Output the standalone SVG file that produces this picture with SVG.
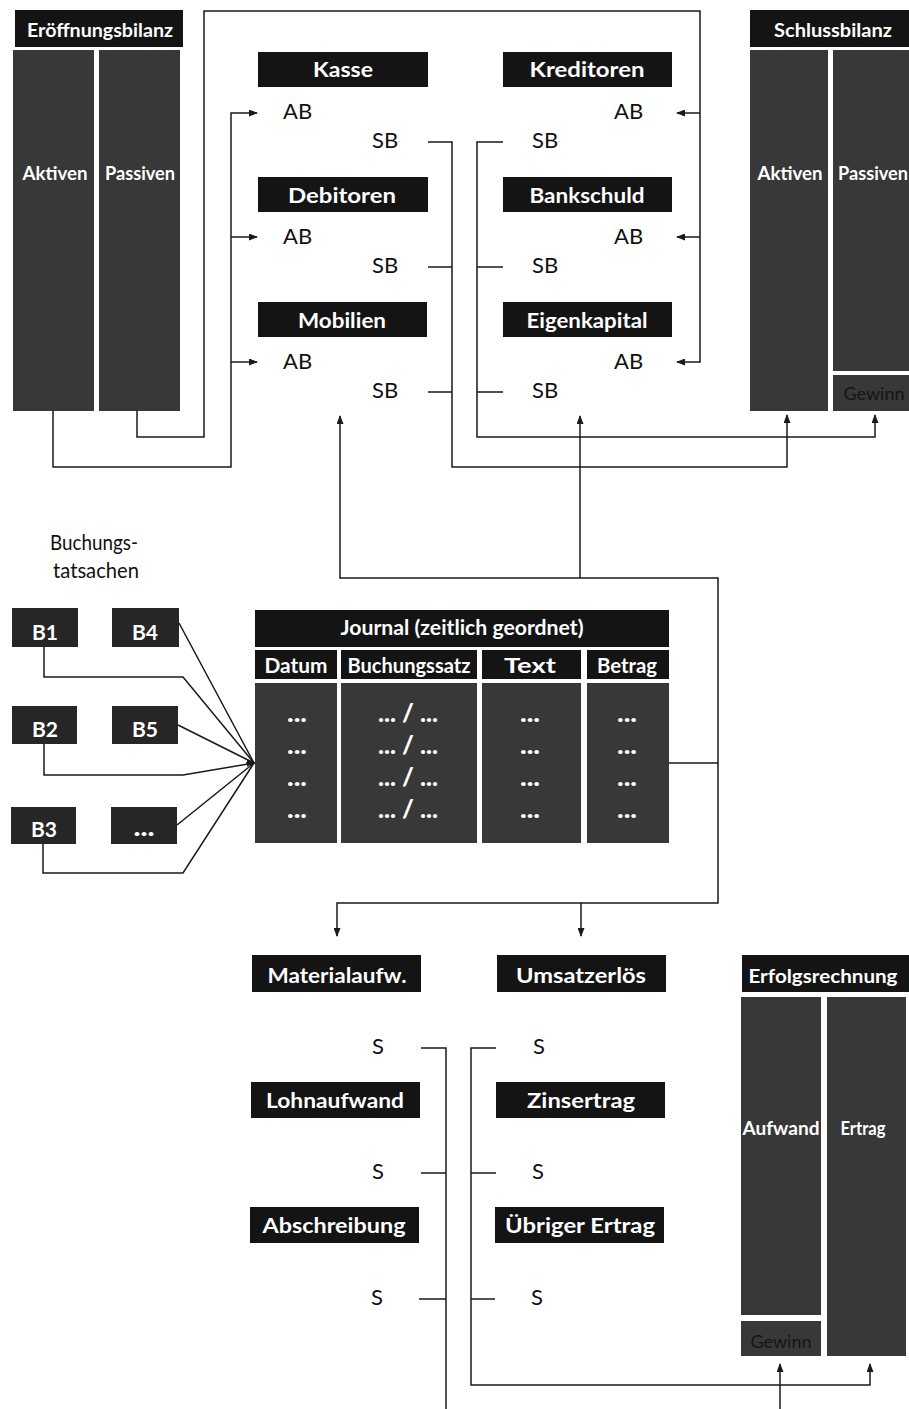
<svg xmlns="http://www.w3.org/2000/svg" width="909" height="1409" viewBox="0 0 909 1409">
<defs>
<style>
.hd{fill:#141414}
.col{fill:#383838}
.bx{fill:#262626}
.lt{font-family:Lato,"Open Sans","Liberation Sans",sans-serif;font-weight:700;fill:#fff;text-anchor:middle}
.dt{font-family:Lato,"Open Sans","Liberation Sans",sans-serif;font-weight:900;fill:#fff;text-anchor:middle;font-size:24px}
.rg{font-family:Lato,"Open Sans","Liberation Sans",sans-serif;font-weight:400;fill:#111;font-size:22px}
.gw{font-family:Lato,"Open Sans","Liberation Sans",sans-serif;font-weight:400;fill:#151515;font-size:18px;text-anchor:middle}
.ln{fill:none;stroke:#1a1a1a;stroke-width:1.5}
</style>
<marker id="ah" markerWidth="9" markerHeight="7" refX="8" refY="3.5" orient="auto" markerUnits="userSpaceOnUse">
<path d="M0,0 L9,3.5 L0,7 Z" fill="#1a1a1a"/>
</marker>
</defs>
<rect width="909" height="1409" fill="#ffffff"/>

<g id="connectors">
<path class="ln" d="M137,411 V437 H204 V11 H700 V362 H677" marker-end="url(#ah)"/>
<path class="ln" d="M700,113 H677" marker-end="url(#ah)"/>
<path class="ln" d="M700,237 H677" marker-end="url(#ah)"/>
<path class="ln" d="M53,411 V467 H231 V113 H257" marker-end="url(#ah)"/>
<path class="ln" d="M231,237 H257" marker-end="url(#ah)"/>
<path class="ln" d="M231,362 H257" marker-end="url(#ah)"/>
<path class="ln" d="M428,142 H452 V467 H787 V415" marker-end="url(#ah)"/>
<path class="ln" d="M428,267 H452 M428,392 H452"/>
<path class="ln" d="M503,142 H477 V437 H875 V415" marker-end="url(#ah)"/>
<path class="ln" d="M503,267 H477 M503,392 H477"/>
<path class="ln" d="M669,763 H718 V578 H340 V416" marker-end="url(#ah)"/>
<path class="ln" d="M580,578 V416" marker-end="url(#ah)"/>
<path class="ln" d="M718,763 V903 H337 V936" marker-end="url(#ah)"/>
<path class="ln" d="M581,903 V936" marker-end="url(#ah)"/>
<path class="ln" d="M179,623 L254,763 M178,725 L254,763 M177,825 L254,763"/>
<path class="ln" d="M44,647 V677 H183 L254,763"/>
<path class="ln" d="M44,744 V775 H183 L254,763"/>
<path class="ln" d="M43,844 V873 H183 L254,763"/>
<path class="ln" d="M246,763 H255" marker-end="url(#ah)"/>
<path class="ln" d="M421,1048 H446 V1409 M421,1173 H446 M419,1299 H446"/>
<path class="ln" d="M496,1048 H471 V1385 H870 V1364" marker-end="url(#ah)"/>
<path class="ln" d="M496,1173 H471 M495,1299 H471"/>
<path class="ln" d="M780,1409 V1364" marker-end="url(#ah)"/>
</g>

<g id="eroeffnungsbilanz">
<rect class="hd" x="15" y="10" width="168" height="37"/>
<text class="lt" x="100" y="37" font-size="19" textLength="146" lengthAdjust="spacingAndGlyphs">Eröffnungsbilanz</text>
<rect class="col" x="13" y="50" width="81" height="361"/>
<rect class="col" x="99" y="50" width="81" height="361"/>
<text class="lt" x="55" y="180" font-size="19" textLength="65" lengthAdjust="spacingAndGlyphs">Aktiven</text>
<text class="lt" x="140" y="180" font-size="19" textLength="70" lengthAdjust="spacingAndGlyphs">Passiven</text>
</g>

<g id="kasse">
<rect class="hd" x="258" y="52" width="170" height="35"/>
<text class="lt" x="343" y="77" font-size="21" textLength="60" lengthAdjust="spacingAndGlyphs">Kasse</text>
<text class="rg" x="283" y="119">AB</text>
<text class="rg" x="372" y="148">SB</text>
</g>
<g id="debitoren">
<rect class="hd" x="258" y="177" width="170" height="35"/>
<text class="lt" x="342" y="203" font-size="21" textLength="108" lengthAdjust="spacingAndGlyphs">Debitoren</text>
<text class="rg" x="283" y="244">AB</text>
<text class="rg" x="372" y="273">SB</text>
</g>
<g id="mobilien">
<rect class="hd" x="258" y="302" width="169" height="35"/>
<text class="lt" x="342" y="328" font-size="21" textLength="88" lengthAdjust="spacingAndGlyphs">Mobilien</text>
<text class="rg" x="283" y="369">AB</text>
<text class="rg" x="372" y="398">SB</text>
</g>
<g id="kreditoren">
<rect class="hd" x="503" y="52" width="169" height="35"/>
<text class="lt" x="587" y="77" font-size="21" textLength="115" lengthAdjust="spacingAndGlyphs">Kreditoren</text>
<text class="rg" x="614" y="119">AB</text>
<text class="rg" x="532" y="148">SB</text>
</g>
<g id="bankschuld">
<rect class="hd" x="503" y="177" width="169" height="35"/>
<text class="lt" x="587" y="203" font-size="21" textLength="115" lengthAdjust="spacingAndGlyphs">Bankschuld</text>
<text class="rg" x="614" y="244">AB</text>
<text class="rg" x="532" y="273">SB</text>
</g>
<g id="eigenkapital">
<rect class="hd" x="503" y="302" width="169" height="35"/>
<text class="lt" x="587" y="328" font-size="21" textLength="121" lengthAdjust="spacingAndGlyphs">Eigenkapital</text>
<text class="rg" x="614" y="369">AB</text>
<text class="rg" x="532" y="398">SB</text>
</g>

<g id="schlussbilanz">
<rect class="hd" x="750" y="10" width="159" height="37"/>
<text class="lt" x="833" y="37" font-size="19" textLength="118" lengthAdjust="spacingAndGlyphs">Schlussbilanz</text>
<rect class="col" x="750" y="50" width="78" height="361"/>
<rect class="col" x="833" y="50" width="76" height="321"/>
<rect class="col" x="833" y="375" width="76" height="36"/>
<text class="lt" x="790" y="180" font-size="19" textLength="65" lengthAdjust="spacingAndGlyphs">Aktiven</text>
<text class="lt" x="873" y="180" font-size="19" textLength="70" lengthAdjust="spacingAndGlyphs">Passiven</text>
<text class="gw" x="874" y="400">Gewinn</text>
</g>

<g id="buchungstatsachen">
<text class="rg" x="50" y="550" font-size="19" textLength="88" lengthAdjust="spacingAndGlyphs">Buchungs-</text>
<text class="rg" x="53" y="578" font-size="19" textLength="86" lengthAdjust="spacingAndGlyphs">tatsachen</text>
</g>
<g id="b1"><rect class="bx" x="12" y="608" width="66" height="39"/><text class="lt" x="45" y="640" font-size="21">B1</text></g>
<g id="b4"><rect class="bx" x="112" y="608" width="67" height="39"/><text class="lt" x="145" y="640" font-size="21">B4</text></g>
<g id="b2"><rect class="bx" x="12" y="706" width="65" height="38"/><text class="lt" x="45" y="737" font-size="21">B2</text></g>
<g id="b5"><rect class="bx" x="112" y="706" width="66" height="38"/><text class="lt" x="145" y="737" font-size="21">B5</text></g>
<g id="b3"><rect class="bx" x="11" y="807" width="65" height="37"/><text class="lt" x="44" y="837" font-size="21">B3</text></g>
<g id="bmore"><rect class="bx" x="111" y="807" width="66" height="37"/><text class="dt" x="144" y="836" textLength="21" lengthAdjust="spacingAndGlyphs">...</text></g>

<g id="journal">
<rect class="hd" x="255" y="610" width="414" height="37"/>
<text class="lt" x="462" y="635" font-size="21" textLength="243" lengthAdjust="spacingAndGlyphs">Journal (zeitlich geordnet)</text>
<rect class="hd" x="255" y="650" width="82" height="29"/>
<rect class="hd" x="341" y="650" width="136" height="29"/>
<rect class="hd" x="482" y="650" width="99" height="29"/>
<rect class="hd" x="587" y="650" width="82" height="29"/>
<text class="lt" x="296" y="673" font-size="20" textLength="63" lengthAdjust="spacingAndGlyphs">Datum</text>
<text class="lt" x="409" y="673" font-size="20" textLength="123" lengthAdjust="spacingAndGlyphs">Buchungssatz</text>
<text class="lt" x="530" y="673" font-size="20" textLength="52" lengthAdjust="spacingAndGlyphs">Text</text>
<text class="lt" x="627" y="673" font-size="20" textLength="60" lengthAdjust="spacingAndGlyphs">Betrag</text>
<rect class="col" x="255" y="683" width="82" height="160"/>
<rect class="col" x="341" y="683" width="136" height="160"/>
<rect class="col" x="482" y="683" width="99" height="160"/>
<rect class="col" x="587" y="683" width="82" height="160"/>
<g class="dt">
<text x="297" y="722" textLength="20" lengthAdjust="spacingAndGlyphs">...</text><text x="297" y="754" textLength="20" lengthAdjust="spacingAndGlyphs">...</text><text x="297" y="786" textLength="20" lengthAdjust="spacingAndGlyphs">...</text><text x="297" y="818" textLength="20" lengthAdjust="spacingAndGlyphs">...</text>
<text x="408" y="722" textLength="60" lengthAdjust="spacingAndGlyphs">... / ...</text><text x="408" y="754" textLength="60" lengthAdjust="spacingAndGlyphs">... / ...</text><text x="408" y="786" textLength="60" lengthAdjust="spacingAndGlyphs">... / ...</text><text x="408" y="818" textLength="60" lengthAdjust="spacingAndGlyphs">... / ...</text>
<text x="530" y="722" textLength="20" lengthAdjust="spacingAndGlyphs">...</text><text x="530" y="754" textLength="20" lengthAdjust="spacingAndGlyphs">...</text><text x="530" y="786" textLength="20" lengthAdjust="spacingAndGlyphs">...</text><text x="530" y="818" textLength="20" lengthAdjust="spacingAndGlyphs">...</text>
<text x="627" y="722" textLength="20" lengthAdjust="spacingAndGlyphs">...</text><text x="627" y="754" textLength="20" lengthAdjust="spacingAndGlyphs">...</text><text x="627" y="786" textLength="20" lengthAdjust="spacingAndGlyphs">...</text><text x="627" y="818" textLength="20" lengthAdjust="spacingAndGlyphs">...</text>
</g>
</g>

<g id="materialaufw">
<rect class="hd" x="252" y="955" width="169" height="37"/>
<text class="lt" x="337" y="983" font-size="21" textLength="139" lengthAdjust="spacingAndGlyphs">Materialaufw.</text>
<text class="rg" x="372" y="1054">S</text>
</g>
<g id="lohnaufwand">
<rect class="hd" x="251" y="1082" width="169" height="36"/>
<text class="lt" x="335" y="1108" font-size="21" textLength="138" lengthAdjust="spacingAndGlyphs">Lohnaufwand</text>
<text class="rg" x="372" y="1179">S</text>
</g>
<g id="abschreibung">
<rect class="hd" x="250" y="1207" width="169" height="36"/>
<text class="lt" x="334" y="1233" font-size="21" textLength="143" lengthAdjust="spacingAndGlyphs">Abschreibung</text>
<text class="rg" x="371" y="1305">S</text>
</g>
<g id="umsatzerloes">
<rect class="hd" x="497" y="955" width="169" height="37"/>
<text class="lt" x="581" y="983" font-size="21" textLength="130" lengthAdjust="spacingAndGlyphs">Umsatzerlös</text>
<text class="rg" x="533" y="1054">S</text>
</g>
<g id="zinsertrag">
<rect class="hd" x="496" y="1082" width="169" height="36"/>
<text class="lt" x="581" y="1108" font-size="21" textLength="108" lengthAdjust="spacingAndGlyphs">Zinsertrag</text>
<text class="rg" x="532" y="1179">S</text>
</g>
<g id="uebriger-ertrag">
<rect class="hd" x="495" y="1207" width="169" height="36"/>
<text class="lt" x="580" y="1233" font-size="21" textLength="150" lengthAdjust="spacingAndGlyphs">Übriger Ertrag</text>
<text class="rg" x="531" y="1305">S</text>
</g>

<g id="erfolgsrechnung">
<rect class="hd" x="742" y="955" width="167" height="37"/>
<text class="lt" x="823" y="983" font-size="19" textLength="149" lengthAdjust="spacingAndGlyphs">Erfolgsrechnung</text>
<rect class="col" x="741" y="997" width="80" height="318"/>
<rect class="col" x="741" y="1321" width="80" height="35"/>
<rect class="col" x="827" y="997" width="79" height="359"/>
<text class="lt" x="781" y="1135" font-size="19" textLength="77" lengthAdjust="spacingAndGlyphs">Aufwand</text>
<text class="lt" x="863" y="1135" font-size="19" textLength="45" lengthAdjust="spacingAndGlyphs">Ertrag</text>
<text class="gw" x="781" y="1348">Gewinn</text>
</g>
</svg>
